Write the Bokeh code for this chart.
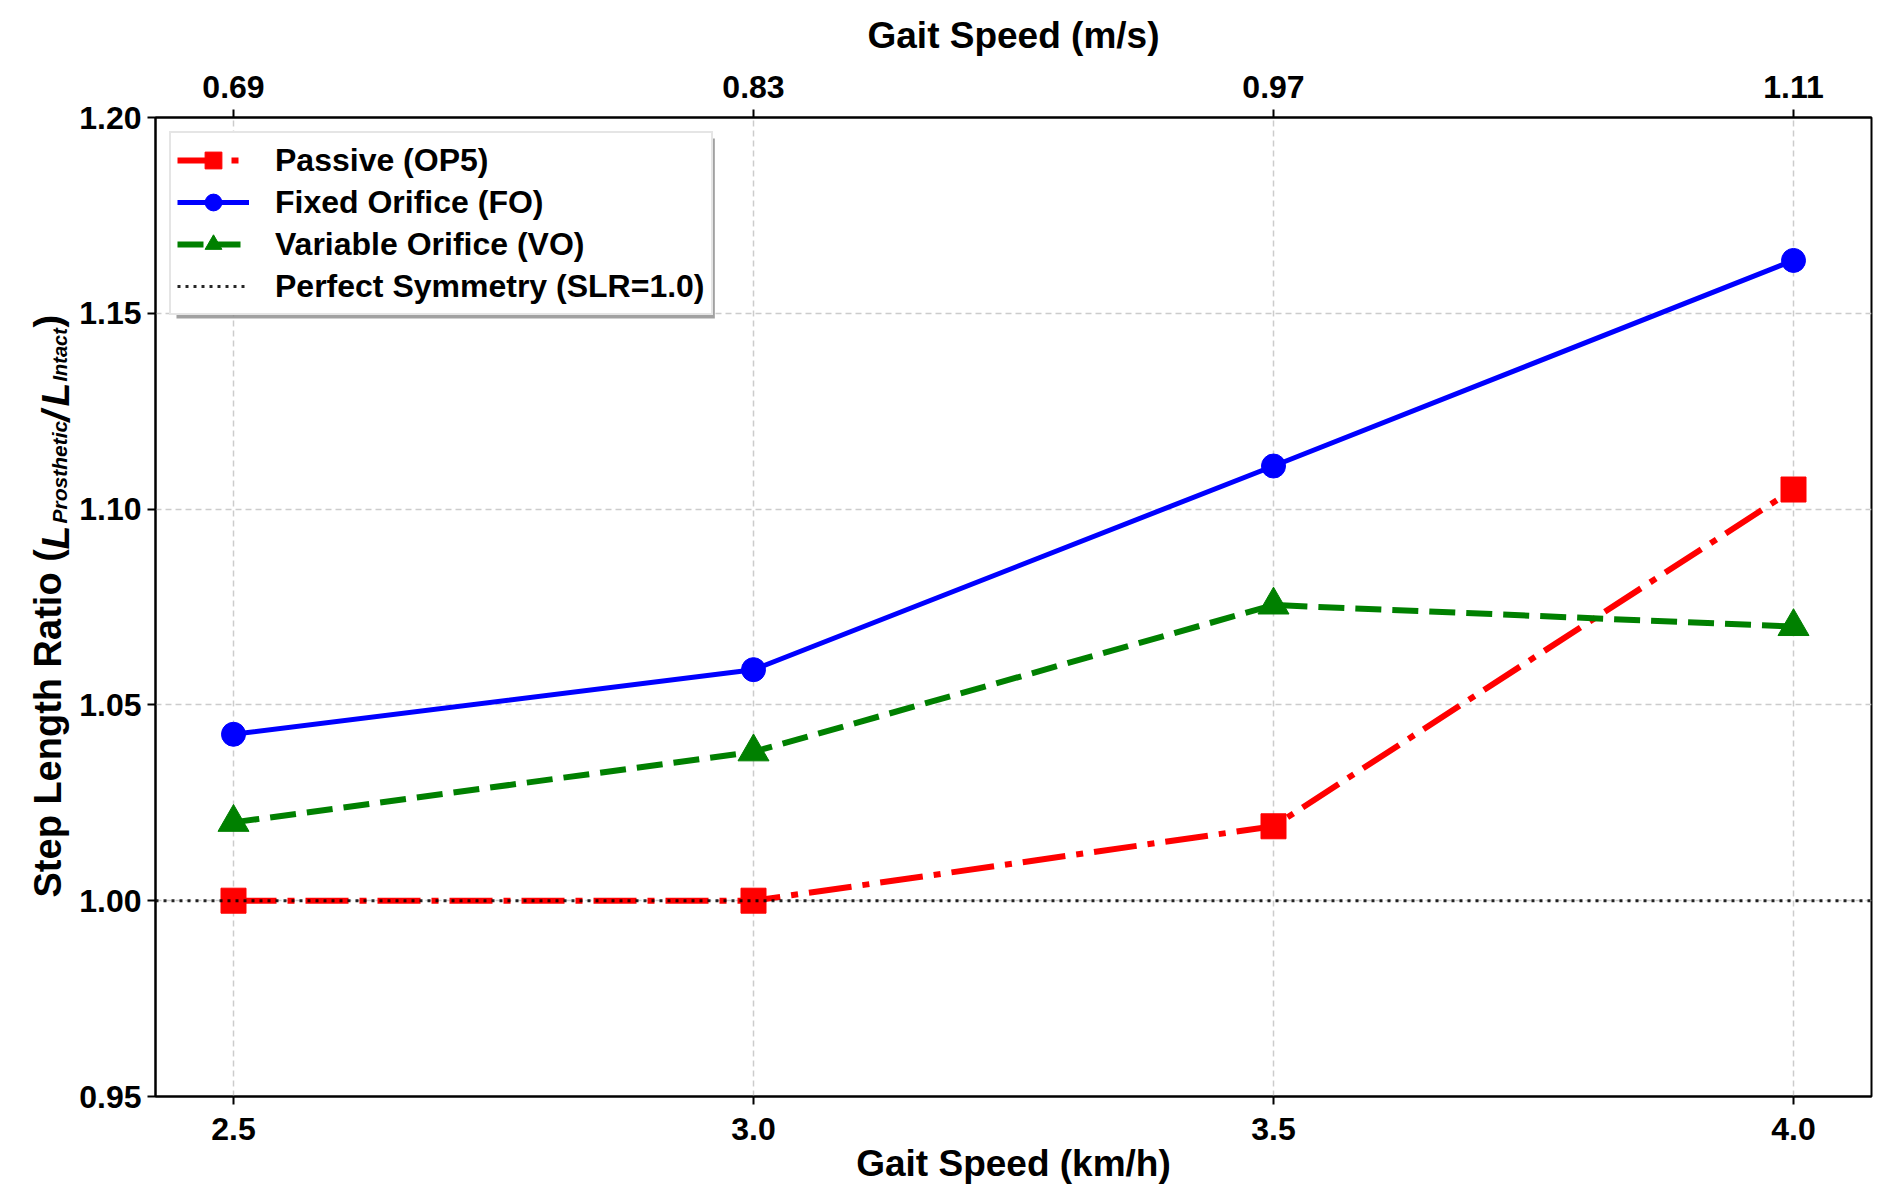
from math import pi

from bokeh.embed import file_html
from bokeh.layouts import row
from bokeh.models import (BoxAnnotation, FixedTicker, Label, Legend, LegendItem,
                          LinearAxis, PrintfTickFormatter, Range1d)
from bokeh.plotting import figure
from bokeh.resources import INLINE

# data
speed_kmh = [2.5, 3.0, 3.5, 4.0]
speed_ms_labels = ["0.69", "0.83", "0.97", "1.11"]
slr_passive = [1.000, 1.000, 1.019, 1.105]
slr_fixed = [1.0425, 1.059, 1.111, 1.1635]
slr_variable = [1.020, 1.038, 1.0755, 1.070]
slr_symmetry = 1.0
y_ticks = [0.95, 1.00, 1.05, 1.10, 1.15, 1.20]

FONT = "Liberation Sans"
W, H = 1888, 1200
LW = 76                      # strip on the left holding the y-axis title
BL, BR, BT, BB = 77, 17, 117, 104

pad = 0.05 * (max(speed_kmh) - min(speed_kmh))
x_lo, x_hi = min(speed_kmh) - pad, max(speed_kmh) + pad
y_lo, y_hi = y_ticks[0], y_ticks[-1]

p = figure(width=W - LW, height=H, x_range=Range1d(x_lo, x_hi), y_range=Range1d(y_lo, y_hi),
           output_backend="svg", toolbar_location=None,
           min_border_left=BL, min_border_right=BR, min_border_top=BT, min_border_bottom=BB)
p.background_fill_color = "white"
p.border_fill_color = "white"
p.outline_line_color = "black"
p.outline_line_width = 2

# frame pixel -> data helpers (px measured from frame left / top)
fw, fh = W - LW - BL - BR, H - BT - BB
def dx(px):
    return x_lo + px * (x_hi - x_lo) / fw
def dy(px):
    return y_hi - px * (y_hi - y_lo) / fh

def style_axis(ax, label_standoff=8, title_standoff=4):
    ax.axis_line_width = 2
    ax.major_tick_line_width = 2
    ax.major_tick_out = 8
    ax.major_tick_in = 0
    ax.minor_tick_line_color = None
    ax.major_label_standoff = label_standoff
    ax.major_label_text_font = FONT
    ax.major_label_text_font_style = "bold"
    ax.major_label_text_font_size = "32px"
    ax.major_label_text_color = "black"
    ax.axis_label_text_font = FONT
    ax.axis_label_text_font_style = "bold"
    ax.axis_label_text_font_size = "37px"
    ax.axis_label_text_color = "black"
    ax.axis_label_standoff = title_standoff

xb = p.xaxis[0]
xb.ticker = FixedTicker(ticks=speed_kmh)
xb.formatter = PrintfTickFormatter(format="%.1f")
xb.axis_label = "Gait Speed (km/h)"
style_axis(xb, 13, 0)

yl = p.yaxis[0]
yl.ticker = FixedTicker(ticks=y_ticks)
yl.formatter = PrintfTickFormatter(format="%.2f")
style_axis(yl, 6)

xt = LinearAxis(ticker=FixedTicker(ticks=speed_kmh), axis_label="Gait Speed (m/s)",
                major_label_overrides=dict(zip(speed_kmh, speed_ms_labels)))
style_axis(xt, 12, 17)
p.add_layout(xt, "above")

for g, ticks in ((p.xgrid, speed_kmh), (p.ygrid, y_ticks)):
    g.ticker = FixedTicker(ticks=ticks)
    g.grid_line_color = "#cccccc"
    g.grid_line_width = 1.5
    g.grid_line_dash = "6 4"

# series
r_pl = p.line(speed_kmh, slr_passive, line_color="red", line_width=6, line_dash="43 11 7 11")
r_ps = p.scatter(speed_kmh, slr_passive, marker="square", size=25, color="red")
r_fl = p.line(speed_kmh, slr_fixed, line_color="blue", line_width=5)
r_fs = p.scatter(speed_kmh, slr_fixed, marker="circle", size=24, color="blue")
r_vl = p.line(speed_kmh, slr_variable, line_color="green", line_width=6, line_dash="26 11")
r_vs = p.scatter(speed_kmh, slr_variable, marker="triangle", size=31, color="green")
r_sym = p.line([x_lo, x_hi], [slr_symmetry, slr_symmetry], line_color="black",
               line_alpha=0.85, line_width=3, line_dash="3 5")

# legend shadow, then legend
p.add_layout(BoxAnnotation(left=dx(21), right=dx(560), top=dy(21), bottom=dy(201),
                           fill_color="#8a8a8a", fill_alpha=0.8, line_color=None))
legend = Legend(items=[
    LegendItem(label="Passive (OP5)", renderers=[r_pl, r_ps]),
    LegendItem(label="Fixed Orifice (FO)", renderers=[r_fl, r_fs]),
    LegendItem(label="Variable Orifice (VO)", renderers=[r_vl, r_vs]),
    LegendItem(label="Perfect Symmetry (SLR=1.0)", renderers=[r_sym]),
], location="top_left", margin=14, padding=6, spacing=0,
    glyph_width=72, glyph_height=42, label_height=36, label_standoff=26,
    label_text_font=FONT, label_text_font_style="bold", label_text_font_size="32px",
    label_text_color="black",
    border_line_color="#cccccc", border_line_width=2,
    background_fill_color="white", background_fill_alpha=1.0)
p.add_layout(legend)

# y-axis title strip; the row aligns its frame with the main frame vertically,
# so it shares the main y range and the pieces are placed in frame px
ylab = figure(width=LW, height=H, x_range=Range1d(0, LW), y_range=Range1d(y_lo, y_hi),
              output_backend="svg", toolbar_location=None, min_border=0,
              min_border_top=BT, min_border_bottom=BB,
              x_axis_type=None, y_axis_type=None)
ylab.outline_line_color = None
ylab.xgrid.visible = False
ylab.ygrid.visible = False
pieces = [  # text, baseline x, start y (page px from top), size, style
    ("Step Length Ratio (", 47, 897, 38, "bold"),
    ("L", 55, 549, 39, "bold italic"),
    ("Prosthetic", 59, 523, 21, "bold italic"),
    ("/", 55, 421, 38, "bold italic"),
    ("L", 55, 406, 39, "bold italic"),
    ("Intact", 59, 381, 20, "bold italic"),
    (")", 47, 327, 38, "bold"),
]
for txt, bx, sy, size, style in pieces:
    ylab.add_layout(Label(x=bx, y=dy(sy - BT), text=txt, angle=pi / 2,
                          text_font=FONT, text_font_style=style,
                          text_font_size=f"{size}px", text_color="black",
                          text_align="left", text_baseline="alphabetic"))

layout = row(ylab, p, spacing=0)
open("out.html", "w").write(file_html(layout, INLINE))
